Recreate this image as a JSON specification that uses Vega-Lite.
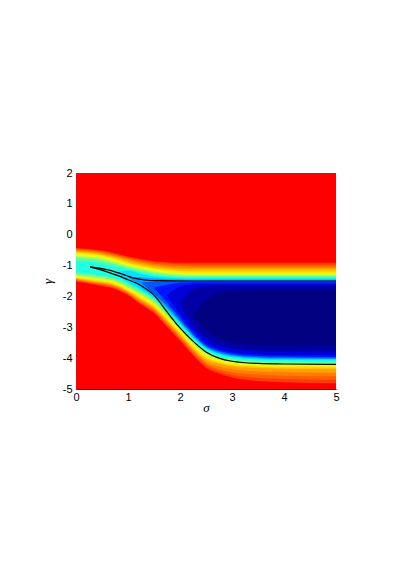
{
"$schema":"https://vega.github.io/schema/vega-lite/v6.json",
"width":260,"height":216,
"autosize":{"type":"none"},
"padding":{"left":76,"top":173,"right":67,"bottom":181},
"background":"white",
"config":{"view":{"stroke":null},"axis":{"grid":false,"ticks":false,"tickSize":0,"domainColor":"#262626","labelColor":"#000000","labelFont":"Liberation Sans","labelFontSize":11,"titleFont":"Liberation Serif","titleFontSize":13,"titleFontStyle":"italic","titleFontWeight":"normal","titleColor":"#000000","labelFlush":false,"labelOverlap":false}},
"datasets":{
"f":[
{"v":1,"x":0,"y":2,"y2":-5},{"v":1,"x":5,"y":2,"y2":-5},
{"v":0.933,"x":0,"y":-0.43,"y2":-1.52},{"v":0.933,"x":0.25,"y":-0.46,"y2":-1.59},{"v":0.933,"x":0.5,"y":-0.51,"y2":-1.66},{"v":0.933,"x":0.75,"y":-0.6,"y2":-1.76},{"v":0.933,"x":1,"y":-0.71,"y2":-1.96},{"v":0.933,"x":1.25,"y":-0.79,"y2":-2.26},{"v":0.933,"x":1.5,"y":-0.86,"y2":-2.54},{"v":0.933,"x":1.75,"y":-0.89,"y2":-2.99},{"v":0.933,"x":2,"y":-0.91,"y2":-3.43},{"v":0.933,"x":2.25,"y":-0.91,"y2":-3.91},{"v":0.933,"x":2.5,"y":-0.91,"y2":-4.31},{"v":0.933,"x":2.75,"y":-0.91,"y2":-4.5},{"v":0.933,"x":3,"y":-0.91,"y2":-4.63},{"v":0.933,"x":3.5,"y":-0.91,"y2":-4.74},{"v":0.933,"x":4,"y":-0.91,"y2":-4.78},{"v":0.933,"x":5,"y":-0.91,"y2":-4.81},
{"v":0.897,"x":0,"y":-0.455,"y2":-1.495},{"v":0.897,"x":0.25,"y":-0.485,"y2":-1.565},{"v":0.897,"x":0.5,"y":-0.54,"y2":-1.63},{"v":0.897,"x":0.75,"y":-0.63,"y2":-1.73},{"v":0.897,"x":1,"y":-0.74,"y2":-1.93},{"v":0.897,"x":1.25,"y":-0.83,"y2":-2.23},{"v":0.897,"x":1.5,"y":-0.9,"y2":-2.5},{"v":0.897,"x":1.75,"y":-0.935,"y2":-2.945},{"v":0.897,"x":2,"y":-0.96,"y2":-3.385},{"v":0.897,"x":2.25,"y":-0.965,"y2":-3.855},{"v":0.897,"x":2.5,"y":-0.965,"y2":-4.245},{"v":0.897,"x":2.75,"y":-0.965,"y2":-4.43},{"v":0.897,"x":3,"y":-0.965,"y2":-4.545},{"v":0.897,"x":3.5,"y":-0.965,"y2":-4.64},{"v":0.897,"x":4,"y":-0.965,"y2":-4.675},{"v":0.897,"x":5,"y":-0.965,"y2":-4.7},
{"v":0.86,"x":0,"y":-0.48,"y2":-1.47},{"v":0.86,"x":0.25,"y":-0.51,"y2":-1.54},{"v":0.86,"x":0.5,"y":-0.57,"y2":-1.6},{"v":0.86,"x":0.75,"y":-0.66,"y2":-1.7},{"v":0.86,"x":1,"y":-0.77,"y2":-1.9},{"v":0.86,"x":1.25,"y":-0.87,"y2":-2.2},{"v":0.86,"x":1.5,"y":-0.94,"y2":-2.46},{"v":0.86,"x":1.75,"y":-0.98,"y2":-2.9},{"v":0.86,"x":2,"y":-1.01,"y2":-3.34},{"v":0.86,"x":2.25,"y":-1.02,"y2":-3.8},{"v":0.86,"x":2.5,"y":-1.02,"y2":-4.18},{"v":0.86,"x":2.75,"y":-1.02,"y2":-4.36},{"v":0.86,"x":3,"y":-1.02,"y2":-4.46},{"v":0.86,"x":3.5,"y":-1.02,"y2":-4.54},{"v":0.86,"x":4,"y":-1.02,"y2":-4.57},{"v":0.86,"x":5,"y":-1.02,"y2":-4.59},
{"v":0.82,"x":0,"y":-0.515,"y2":-1.445},{"v":0.82,"x":0.25,"y":-0.545,"y2":-1.515},{"v":0.82,"x":0.5,"y":-0.605,"y2":-1.575},{"v":0.82,"x":0.75,"y":-0.695,"y2":-1.67},{"v":0.82,"x":1,"y":-0.815,"y2":-1.87},{"v":0.82,"x":1.25,"y":-0.915,"y2":-2.155},{"v":0.82,"x":1.5,"y":-0.99,"y2":-2.415},{"v":0.82,"x":1.75,"y":-1.035,"y2":-2.85},{"v":0.82,"x":2,"y":-1.065,"y2":-3.29},{"v":0.82,"x":2.25,"y":-1.075,"y2":-3.75},{"v":0.82,"x":2.5,"y":-1.075,"y2":-4.115},{"v":0.82,"x":2.75,"y":-1.075,"y2":-4.27},{"v":0.82,"x":3,"y":-1.075,"y2":-4.36},{"v":0.82,"x":3.5,"y":-1.075,"y2":-4.43},{"v":0.82,"x":4,"y":-1.075,"y2":-4.455},{"v":0.82,"x":5,"y":-1.075,"y2":-4.47},
{"v":0.78,"x":0,"y":-0.55,"y2":-1.42},{"v":0.78,"x":0.25,"y":-0.58,"y2":-1.49},{"v":0.78,"x":0.5,"y":-0.64,"y2":-1.55},{"v":0.78,"x":0.75,"y":-0.73,"y2":-1.64},{"v":0.78,"x":1,"y":-0.86,"y2":-1.84},{"v":0.78,"x":1.25,"y":-0.96,"y2":-2.11},{"v":0.78,"x":1.5,"y":-1.04,"y2":-2.37},{"v":0.78,"x":1.75,"y":-1.09,"y2":-2.8},{"v":0.78,"x":2,"y":-1.12,"y2":-3.24},{"v":0.78,"x":2.25,"y":-1.13,"y2":-3.7},{"v":0.78,"x":2.5,"y":-1.13,"y2":-4.05},{"v":0.78,"x":2.75,"y":-1.13,"y2":-4.18},{"v":0.78,"x":3,"y":-1.13,"y2":-4.26},{"v":0.78,"x":3.5,"y":-1.13,"y2":-4.32},{"v":0.78,"x":4,"y":-1.13,"y2":-4.34},{"v":0.78,"x":5,"y":-1.13,"y2":-4.35},
{"v":0.74,"x":0,"y":-0.585,"y2":-1.395},{"v":0.74,"x":0.25,"y":-0.615,"y2":-1.46},{"v":0.74,"x":0.5,"y":-0.675,"y2":-1.52},{"v":0.74,"x":0.75,"y":-0.775,"y2":-1.61},{"v":0.74,"x":1,"y":-0.905,"y2":-1.81},{"v":0.74,"x":1.25,"y":-1.005,"y2":-2.065},{"v":0.74,"x":1.5,"y":-1.085,"y2":-2.325},{"v":0.74,"x":1.75,"y":-1.14,"y2":-2.75},{"v":0.74,"x":2,"y":-1.175,"y2":-3.195},{"v":0.74,"x":2.25,"y":-1.19,"y2":-3.645},{"v":0.74,"x":2.5,"y":-1.19,"y2":-3.99},{"v":0.74,"x":2.75,"y":-1.19,"y2":-4.14},{"v":0.74,"x":3,"y":-1.19,"y2":-4.22},{"v":0.74,"x":3.5,"y":-1.19,"y2":-4.275},{"v":0.74,"x":4,"y":-1.19,"y2":-4.295},{"v":0.74,"x":5,"y":-1.19,"y2":-4.305},
{"v":0.68,"x":0,"y":-0.62,"y2":-1.37},{"v":0.68,"x":0.25,"y":-0.65,"y2":-1.43},{"v":0.68,"x":0.5,"y":-0.71,"y2":-1.49},{"v":0.68,"x":0.75,"y":-0.82,"y2":-1.58},{"v":0.68,"x":1,"y":-0.95,"y2":-1.78},{"v":0.68,"x":1.25,"y":-1.05,"y2":-2.02},{"v":0.68,"x":1.5,"y":-1.13,"y2":-2.28},{"v":0.68,"x":1.75,"y":-1.19,"y2":-2.7},{"v":0.68,"x":2,"y":-1.23,"y2":-3.15},{"v":0.68,"x":2.25,"y":-1.25,"y2":-3.59},{"v":0.68,"x":2.5,"y":-1.25,"y2":-3.93},{"v":0.68,"x":2.75,"y":-1.25,"y2":-4.1},{"v":0.68,"x":3,"y":-1.25,"y2":-4.18},{"v":0.68,"x":3.5,"y":-1.25,"y2":-4.23},{"v":0.68,"x":4,"y":-1.25,"y2":-4.25},{"v":0.68,"x":5,"y":-1.25,"y2":-4.26},
{"v":0.605,"x":0,"y":-0.69,"y2":-1.32},{"v":0.605,"x":0.25,"y":-0.72,"y2":-1.38},{"v":0.605,"x":0.5,"y":-0.78,"y2":-1.43},{"v":0.605,"x":0.75,"y":-0.89,"y2":-1.52},{"v":0.605,"x":1,"y":-1.01,"y2":-1.72},{"v":0.605,"x":1.25,"y":-1.11,"y2":-1.95},{"v":0.605,"x":1.5,"y":-1.19,"y2":-2.21},{"v":0.605,"x":1.75,"y":-1.25,"y2":-2.64},{"v":0.605,"x":2,"y":-1.28,"y2":-3.09},{"v":0.605,"x":2.25,"y":-1.3,"y2":-3.53},{"v":0.605,"x":2.5,"y":-1.3,"y2":-3.87},{"v":0.605,"x":2.75,"y":-1.3,"y2":-4.04},{"v":0.605,"x":3,"y":-1.3,"y2":-4.12},{"v":0.605,"x":3.5,"y":-1.3,"y2":-4.18},{"v":0.605,"x":4,"y":-1.3,"y2":-4.2},{"v":0.605,"x":5,"y":-1.3,"y2":-4.21},
{"v":0.535,"x":0,"y":-0.75,"y2":-1.28},{"v":0.535,"x":0.25,"y":-0.78,"y2":-1.33},{"v":0.535,"x":0.5,"y":-0.84,"y2":-1.38},{"v":0.535,"x":0.75,"y":-0.95,"y2":-1.47},{"v":0.535,"x":1,"y":-1.06,"y2":-1.66},{"v":0.535,"x":1.25,"y":-1.16,"y2":-1.88},{"v":0.535,"x":1.5,"y":-1.24,"y2":-2.15},{"v":0.535,"x":1.75,"y":-1.3,"y2":-2.58},{"v":0.535,"x":2,"y":-1.33,"y2":-3.04},{"v":0.535,"x":2.25,"y":-1.34,"y2":-3.48},{"v":0.535,"x":2.5,"y":-1.34,"y2":-3.82},{"v":0.535,"x":2.75,"y":-1.34,"y2":-3.99},{"v":0.535,"x":3,"y":-1.34,"y2":-4.07},{"v":0.535,"x":3.5,"y":-1.34,"y2":-4.13},{"v":0.535,"x":4,"y":-1.34,"y2":-4.15},{"v":0.535,"x":5,"y":-1.34,"y2":-4.16},
{"v":0.465,"x":0,"y":-0.84,"y2":-1.22},{"v":0.465,"x":0.25,"y":-0.87,"y2":-1.27},{"v":0.465,"x":0.5,"y":-0.93,"y2":-1.32},{"v":0.465,"x":0.75,"y":-1.03,"y2":-1.41},{"v":0.465,"x":1,"y":-1.11,"y2":-1.6},{"v":0.465,"x":1.25,"y":-1.22,"y2":-1.83},{"v":0.465,"x":1.5,"y":-1.3,"y2":-2.1},{"v":0.465,"x":1.75,"y":-1.35,"y2":-2.52},{"v":0.465,"x":2,"y":-1.37,"y2":-2.97},{"v":0.465,"x":2.25,"y":-1.38,"y2":-3.42},{"v":0.465,"x":2.5,"y":-1.38,"y2":-3.76},{"v":0.465,"x":2.75,"y":-1.38,"y2":-3.94},{"v":0.465,"x":3,"y":-1.38,"y2":-4.02},{"v":0.465,"x":3.5,"y":-1.38,"y2":-4.09},{"v":0.465,"x":4,"y":-1.38,"y2":-4.11},{"v":0.465,"x":5,"y":-1.38,"y2":-4.12},
{"v":0.395,"x":0.75,"y":-1.24,"y2":-1.24},{"v":0.395,"x":1,"y":-1.16,"y2":-1.55},{"v":0.395,"x":1.25,"y":-1.27,"y2":-1.78},{"v":0.395,"x":1.5,"y":-1.35,"y2":-2.05},{"v":0.395,"x":1.75,"y":-1.39,"y2":-2.45},{"v":0.395,"x":2,"y":-1.41,"y2":-2.9},{"v":0.395,"x":2.25,"y":-1.42,"y2":-3.35},{"v":0.395,"x":2.5,"y":-1.42,"y2":-3.7},{"v":0.395,"x":2.75,"y":-1.42,"y2":-3.88},{"v":0.395,"x":3,"y":-1.42,"y2":-3.97},{"v":0.395,"x":3.5,"y":-1.42,"y2":-4.04},{"v":0.395,"x":4,"y":-1.42,"y2":-4.06},{"v":0.395,"x":5,"y":-1.42,"y2":-4.07},
{"v":0.32,"x":1,"y":-1.36,"y2":-1.36},{"v":0.32,"x":1.25,"y":-1.38,"y2":-1.7},{"v":0.32,"x":1.5,"y":-1.42,"y2":-1.98},{"v":0.32,"x":1.75,"y":-1.44,"y2":-2.38},{"v":0.32,"x":2,"y":-1.45,"y2":-2.84},{"v":0.32,"x":2.25,"y":-1.46,"y2":-3.3},{"v":0.32,"x":2.5,"y":-1.46,"y2":-3.66},{"v":0.32,"x":2.75,"y":-1.46,"y2":-3.84},{"v":0.32,"x":3,"y":-1.46,"y2":-3.93},{"v":0.32,"x":3.5,"y":-1.46,"y2":-4.0},{"v":0.32,"x":4,"y":-1.46,"y2":-4.02},{"v":0.32,"x":5,"y":-1.46,"y2":-4.03},
{"v":0.24,"x":1.25,"y":-1.55,"y2":-1.55},{"v":0.24,"x":1.5,"y":-1.52,"y2":-1.92},{"v":0.24,"x":1.75,"y":-1.5,"y2":-2.3},{"v":0.24,"x":2,"y":-1.5,"y2":-2.78},{"v":0.24,"x":2.25,"y":-1.5,"y2":-3.25},{"v":0.24,"x":2.5,"y":-1.5,"y2":-3.62},{"v":0.24,"x":2.75,"y":-1.5,"y2":-3.8},{"v":0.24,"x":3,"y":-1.5,"y2":-3.9},{"v":0.24,"x":3.5,"y":-1.5,"y2":-3.97},{"v":0.24,"x":4,"y":-1.5,"y2":-3.99},{"v":0.24,"x":5,"y":-1.5,"y2":-4.0},
{"v":0.165,"x":1.5,"y":-1.72,"y2":-1.72},{"v":0.165,"x":1.75,"y":-1.62,"y2":-2.2},{"v":0.165,"x":2,"y":-1.56,"y2":-2.7},{"v":0.165,"x":2.25,"y":-1.54,"y2":-3.2},{"v":0.165,"x":2.5,"y":-1.54,"y2":-3.58},{"v":0.165,"x":2.75,"y":-1.54,"y2":-3.76},{"v":0.165,"x":3,"y":-1.54,"y2":-3.86},{"v":0.165,"x":3.5,"y":-1.54,"y2":-3.93},{"v":0.165,"x":4,"y":-1.54,"y2":-3.95},{"v":0.165,"x":5,"y":-1.54,"y2":-3.96},
{"v":0.1,"x":1.75,"y":-1.95,"y2":-1.95},{"v":0.1,"x":2,"y":-1.68,"y2":-2.58},{"v":0.1,"x":2.25,"y":-1.61,"y2":-3.1},{"v":0.1,"x":2.5,"y":-1.6,"y2":-3.5},{"v":0.1,"x":2.75,"y":-1.6,"y2":-3.7},{"v":0.1,"x":3,"y":-1.6,"y2":-3.8},{"v":0.1,"x":3.5,"y":-1.6,"y2":-3.88},{"v":0.1,"x":4,"y":-1.6,"y2":-3.9},{"v":0.1,"x":5,"y":-1.6,"y2":-3.91},
{"v":0.04,"x":2,"y":-2.2,"y2":-2.2},{"v":0.04,"x":2.25,"y":-1.75,"y2":-2.95},{"v":0.04,"x":2.5,"y":-1.68,"y2":-3.35},{"v":0.04,"x":2.75,"y":-1.66,"y2":-3.58},{"v":0.04,"x":3,"y":-1.65,"y2":-3.68},{"v":0.04,"x":3.5,"y":-1.65,"y2":-3.76},{"v":0.04,"x":4,"y":-1.65,"y2":-3.78},{"v":0.04,"x":5,"y":-1.65,"y2":-3.79},
{"v":0,"x":2.25,"y":-2.6,"y2":-2.6},{"v":0,"x":2.5,"y":-2.1,"y2":-3.1},{"v":0,"x":2.75,"y":-1.9,"y2":-3.38},{"v":0,"x":3,"y":-1.82,"y2":-3.5},{"v":0,"x":3.5,"y":-1.8,"y2":-3.58},{"v":0,"x":4,"y":-1.8,"y2":-3.6},{"v":0,"x":5,"y":-1.8,"y2":-3.6}
],
"c":[
{"b":"u","x":0.27,"y":-1.04},{"b":"u","x":0.45,"y":-1.08},{"b":"u","x":0.64,"y":-1.15},{"b":"u","x":0.8,"y":-1.23},{"b":"u","x":0.96,"y":-1.32},{"b":"u","x":1.1,"y":-1.4},{"b":"u","x":1.22,"y":-1.44},{"b":"u","x":1.38,"y":-1.475},{"b":"u","x":1.6,"y":-1.49},{"b":"u","x":2.2,"y":-1.5},{"b":"u","x":5,"y":-1.5},
{"b":"l","x":0.27,"y":-1.04},{"b":"l","x":0.38,"y":-1.09},{"b":"l","x":0.64,"y":-1.23},{"b":"l","x":0.96,"y":-1.43},{"b":"l","x":1.28,"y":-1.68},{"b":"l","x":1.5,"y":-1.96},{"b":"l","x":1.75,"y":-2.5},{"b":"l","x":2,"y":-3.02},{"b":"l","x":2.25,"y":-3.45},{"b":"l","x":2.5,"y":-3.8},{"b":"l","x":2.75,"y":-4.0},{"b":"l","x":3,"y":-4.1},{"b":"l","x":3.5,"y":-4.17},{"b":"l","x":4,"y":-4.19},{"b":"l","x":5,"y":-4.2}
]
},
"layer":[
{"data":{"name":"f"},
"encoding":{
"x":{"field":"x","type":"quantitative","title":"σ","scale":{"domain":[0,5],"nice":false,"zero":false},"axis":{"values":[0,1,2,3,4,5],"labelExpr":"''+datum.value","labelPadding":2,"titlePadding":-1,"labelOverlap":false}},
"y":{"field":"y","type":"quantitative","title":"γ","scale":{"domain":[-5,2],"nice":false,"zero":false},"axis":{"values":[-5,-4,-3,-2,-1,0,1,2],"labelExpr":"''+datum.value","labelPadding":4,"titlePadding":8,"labelOverlap":false,"labelSeparation":0}},
"y2":{"field":"y2"},
"color":{"field":"v","type":"quantitative","legend":null,"scale":{"type":"linear","domain":[0,0.143,0.429,0.714,1],"range":["#000080","#0000ff","#00ffff","#ffff00","#ff0000"],"interpolate":"rgb"}}
},
"layer":[
{"transform":[{"filter":"datum.v==1"}],"mark":{"type":"area","interpolate":"linear","opacity":1}},
{"transform":[{"filter":"datum.v==0.933"}],"mark":{"type":"area","interpolate":"monotone","opacity":1}},
{"transform":[{"filter":"datum.v==0.897"}],"mark":{"type":"area","interpolate":"monotone","opacity":1}},
{"transform":[{"filter":"datum.v==0.86"}],"mark":{"type":"area","interpolate":"monotone","opacity":1}},
{"transform":[{"filter":"datum.v==0.82"}],"mark":{"type":"area","interpolate":"monotone","opacity":1}},
{"transform":[{"filter":"datum.v==0.78"}],"mark":{"type":"area","interpolate":"monotone","opacity":1}},
{"transform":[{"filter":"datum.v==0.74"}],"mark":{"type":"area","interpolate":"monotone","opacity":1}},
{"transform":[{"filter":"datum.v==0.68"}],"mark":{"type":"area","interpolate":"monotone","opacity":1}},
{"transform":[{"filter":"datum.v==0.605"}],"mark":{"type":"area","interpolate":"monotone","opacity":1}},
{"transform":[{"filter":"datum.v==0.535"}],"mark":{"type":"area","interpolate":"monotone","opacity":1}},
{"transform":[{"filter":"datum.v==0.465"}],"mark":{"type":"area","interpolate":"monotone","opacity":1}},
{"transform":[{"filter":"datum.v==0.395"}],"mark":{"type":"area","interpolate":"monotone","opacity":1}},
{"transform":[{"filter":"datum.v==0.32"}],"mark":{"type":"area","interpolate":"monotone","opacity":1}},
{"transform":[{"filter":"datum.v==0.24"}],"mark":{"type":"area","interpolate":"monotone","opacity":1}},
{"transform":[{"filter":"datum.v==0.165"}],"mark":{"type":"area","interpolate":"monotone","opacity":1}},
{"transform":[{"filter":"datum.v==0.1"}],"mark":{"type":"area","interpolate":"monotone","opacity":1}},
{"transform":[{"filter":"datum.v==0.04"}],"mark":{"type":"area","interpolate":"monotone","opacity":1}},
{"transform":[{"filter":"datum.v==0"}],"mark":{"type":"area","interpolate":"monotone","opacity":1}}
]
},
{"data":{"name":"c"},
"mark":{"type":"line","color":"#000000","strokeWidth":1.2,"interpolate":"monotone"},
"encoding":{
"x":{"field":"x","type":"quantitative","title":"σ","axis":{"values":[0,1,2,3,4,5],"labelExpr":"''+datum.value","labelPadding":2,"titlePadding":-1,"labelOverlap":false}},
"y":{"field":"y","type":"quantitative","title":"γ","axis":{"values":[-5,-4,-3,-2,-1,0,1,2],"labelExpr":"''+datum.value","labelPadding":4,"titlePadding":8,"labelOverlap":false,"labelSeparation":0}},
"detail":{"field":"b"}
}}
]
}
